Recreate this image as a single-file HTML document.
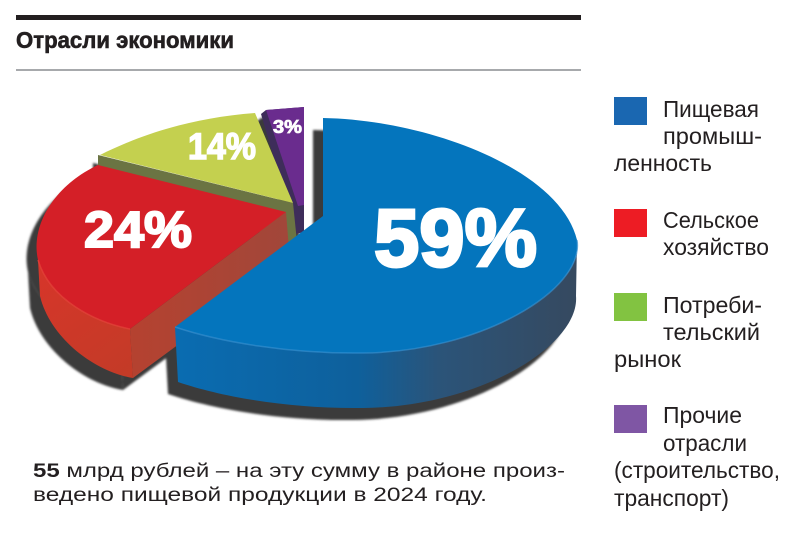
<!DOCTYPE html>
<html>
<head>
<meta charset="utf-8">
<style>
  html,body{margin:0;padding:0;background:#fff;}
  svg{display:block;}
  text{font-family:"Liberation Sans","DejaVu Sans",sans-serif;}
</style>
</head>
<body>
<svg width="800" height="540" viewBox="0 0 800 540" xmlns="http://www.w3.org/2000/svg">
  <defs>
    <filter id="blur" x="-10%" y="-10%" width="120%" height="120%">
      <feGaussianBlur stdDeviation="1"/>
    </filter>
    <linearGradient id="blueSide" x1="175" y1="0" x2="580" y2="0" gradientUnits="userSpaceOnUse">
      <stop offset="0" stop-color="#0a6cb1"/>
      <stop offset="0.45" stop-color="#0e609c"/>
      <stop offset="0.65" stop-color="#2b5479"/>
      <stop offset="1" stop-color="#36495f"/>
    </linearGradient>
    <linearGradient id="redSide" x1="40" y1="250" x2="130" y2="378" gradientUnits="userSpaceOnUse">
      <stop offset="0" stop-color="#d8352a"/>
      <stop offset="1" stop-color="#c33b27"/>
    </linearGradient>
    <linearGradient id="redCut" x1="130" y1="0" x2="290" y2="0" gradientUnits="userSpaceOnUse">
      <stop offset="0" stop-color="#b54230"/>
      <stop offset="1" stop-color="#a1473a"/>
    </linearGradient>
  </defs>

  <!-- header -->
  <rect x="16" y="15" width="565" height="5" fill="#231f20"/>
  <text x="16" y="48" font-size="23" font-weight="bold" fill="#231f20" stroke="#231f20" stroke-width="0.6" textLength="218" lengthAdjust="spacingAndGlyphs">Отрасли экономики</text>
  <rect x="16" y="69" width="565" height="2" fill="#a7a9ac"/>

  <!-- shadows -->
  <g transform="translate(-10,12)" fill="#3a3a3a" filter="url(#blur)">
    <path d="M323,216 L323,118 C430,120 560,170 577,240 C585,290 480,352 363,353 C290,354 220,342 175,327 Z"/>
    <path d="M175,327 C220,342 290,354 363,353 C480,352 585,290 577,240 L576,296 C580,345 480,407 363,408 C290,409 222,397 178,382 Z"/>
    <path d="M98,165 L286,212 L130,329 C95,322 50,300 38,260 C30,225 55,185 98,165 Z"/>
    <path d="M130,329 C95,322 50,300 38,260 L40,296 C50,338 95,372 133,378 Z"/>
    <path d="M286,212 L130,329 L133,378 L290,262 Z"/>
  </g>
  <g transform="translate(-5,8)" fill="#3a3a3a" filter="url(#blur)">
    <path d="M261,114 L266,110 L304,107 L304,232 L296,234 Z"/>
    <path d="M98,155 L293,203 L297,242 L287,242 L98,172 Z"/>
  </g>

  <!-- purple slice -->
  <path d="M261,114 L266,110 L304,107 L304,232 L296,234 Z" fill="#3e2d5a"/>
  <path d="M266,110 L304,107 L304,205 L298,206 Z" fill="#6a2c8e"/>

  <!-- green slice -->
  <path d="M98,155 L293,203 L297,242 L287,242 L98,172 Z" fill="#6b7443"/>
  <path d="M100,155 C140,135 190,118 255,113 L293,203 Z" fill="#c4d04f"/>

  <!-- red slice -->
  <path d="M286,212 L130,329 L133,378 L290,262 Z" fill="url(#redCut)"/>
  <path d="M130,329 C95,322 50,300 38,260 L40,296 C50,338 95,372 133,378 Z" fill="url(#redSide)"/>
  <path d="M98,165 L286,212 L130,329 C95,322 50,300 38,260 C30,225 55,185 98,165 Z" fill="#d41f27"/>
  <path d="M130,329 C95,322 50,300 38,260" fill="none" stroke="#e8443a" stroke-width="1.5" opacity="0.7"/>

  <!-- blue slice -->
  <path d="M175,327 C220,342 290,354 363,353 C480,352 585,290 577,240 L576,296 C580,345 480,407 363,408 C290,409 222,397 178,382 Z" fill="url(#blueSide)"/>
  <path d="M323,216 L323,118 C430,120 560,170 577,240 C585,290 480,352 363,353 C290,354 220,342 175,327 Z" fill="#0475bd"/>
  <path d="M175,327 C220,342 290,354 363,353 C480,352 585,290 577,240" fill="none" stroke="#3a95d6" stroke-width="1.5" opacity="0.6"/>

  <!-- percent labels -->
  <g fill="#ffffff" stroke="#ffffff" font-weight="bold" stroke-linejoin="miter">
    <text x="374" y="266" font-size="82" stroke-width="3" textLength="163" lengthAdjust="spacingAndGlyphs">59%</text>
    <text x="84" y="247" font-size="51" stroke-width="2" textLength="108" lengthAdjust="spacingAndGlyphs">24%</text>
    <text x="188" y="159" font-size="37" stroke-width="1.5" textLength="68" lengthAdjust="spacingAndGlyphs">14%</text>
    <text x="273" y="133" font-size="18" stroke-width="0.8" textLength="29" lengthAdjust="spacingAndGlyphs">3%</text>
  </g>

  <!-- legend -->
  <rect x="614" y="97" width="33" height="28" fill="#1a67b1"/>
  <rect x="614" y="209" width="33" height="28" fill="#ed1c24"/>
  <rect x="614" y="293" width="33" height="28" fill="#82c341"/>
  <rect x="614" y="405" width="33" height="28" fill="#7f56a4"/>
  <g fill="#231f20" font-size="23">
    <text x="663" y="117" textLength="96" lengthAdjust="spacingAndGlyphs">Пищевая</text>
    <text x="663" y="144" textLength="99" lengthAdjust="spacingAndGlyphs">промыш-</text>
    <text x="614" y="171" textLength="98" lengthAdjust="spacingAndGlyphs">ленность</text>
    <text x="663" y="228" textLength="96" lengthAdjust="spacingAndGlyphs">Сельское</text>
    <text x="663" y="255" textLength="106" lengthAdjust="spacingAndGlyphs">хозяйство</text>
    <text x="663" y="313" textLength="99" lengthAdjust="spacingAndGlyphs">Потреби-</text>
    <text x="663" y="340" textLength="97" lengthAdjust="spacingAndGlyphs">тельский</text>
    <text x="614" y="367" textLength="67" lengthAdjust="spacingAndGlyphs">рынок</text>
    <text x="663" y="423" textLength="79" lengthAdjust="spacingAndGlyphs">Прочие</text>
    <text x="663" y="451" textLength="84" lengthAdjust="spacingAndGlyphs">отрасли</text>
    <text x="614" y="478" textLength="166" lengthAdjust="spacingAndGlyphs">(строительство,</text>
    <text x="614" y="506" textLength="115" lengthAdjust="spacingAndGlyphs">транспорт)</text>
  </g>

  <!-- bottom caption -->
  <g fill="#231f20" font-size="19">
    <text x="33" y="477" textLength="532" lengthAdjust="spacingAndGlyphs"><tspan font-weight="bold">55</tspan> млрд рублей – на эту сумму в районе произ-</text>
    <text x="33" y="501" textLength="454" lengthAdjust="spacingAndGlyphs">ведено пищевой продукции в 2024 году.</text>
  </g>
</svg>
</body>
</html>
